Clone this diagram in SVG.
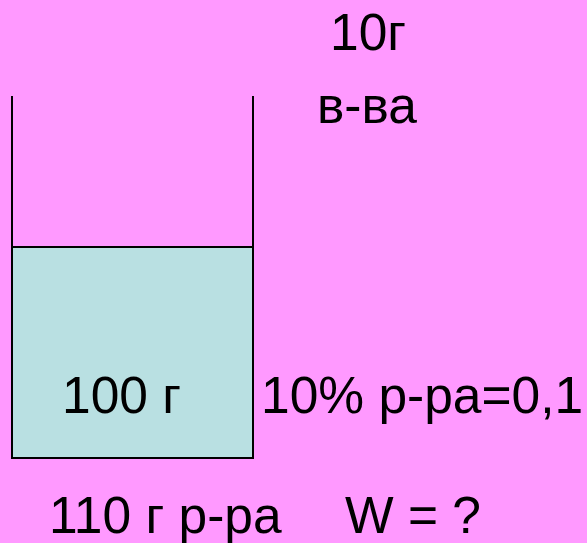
<svg xmlns="http://www.w3.org/2000/svg" width="587" height="543" viewBox="0 0 587 543">
  <style>
    .t { font-family: "Liberation Sans", Arial, sans-serif; font-size: 51.5px; fill: #000; }
    .wall { stroke: #000; stroke-width: 2; fill: none; }
  </style>
  <rect width="587" height="543" fill="#FF99FF"/>
  <g id="beaker">
    <rect x="12" y="247" width="241" height="211" fill="#B9E0E2" stroke="#000" stroke-width="2"/>
    <line class="wall" x1="12" y1="96" x2="12" y2="458"/>
    <line class="wall" x1="253" y1="96" x2="253" y2="262"/>
  </g>
  <g id="labels">
    <text class="t" x="330" y="50">10г</text>
    <text class="t" x="317" y="123">в-ва</text>
    <text class="t" x="62" y="413">100 г</text>
    <text class="t" x="261" y="413">10% р-ра=0,1</text>
    <text class="t" x="49" y="533">110 г р-ра</text>
    <text class="t" x="345" y="533">W = ?</text>
  </g>
</svg>
